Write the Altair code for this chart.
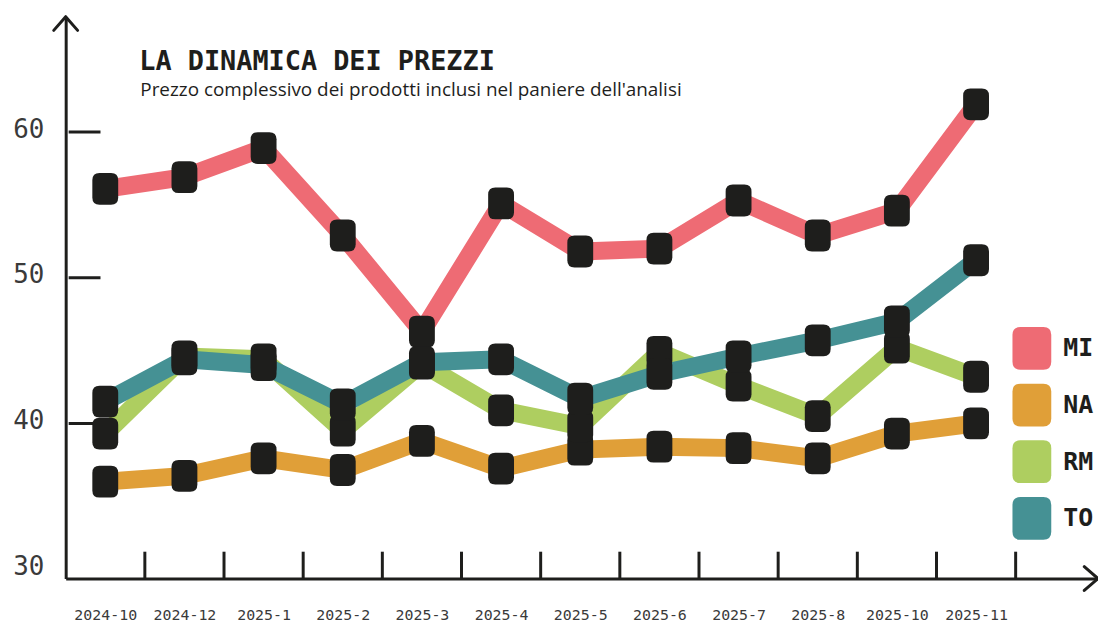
import altair as alt
import pandas as pd

# ---- data ----
months = ["2024-10", "2024-12", "2025-1", "2025-2", "2025-3", "2025-4",
          "2025-5", "2025-6", "2025-7", "2025-8", "2025-10", "2025-11"]
cities = ["MI", "NA", "RM", "TO"]
mi = [56.1, 56.9, 58.9, 52.9, 46.3, 55.1, 51.8, 52.0, 55.3, 52.9, 54.6, 61.9]
na = [36.0, 36.4, 37.6, 36.8, 38.8, 36.9, 38.2, 38.4, 38.3, 37.6, 39.3, 40.0]
rm = [39.3, 44.6, 44.4, 39.5, 44.1, 40.9, 39.8, 44.9, 42.6, 40.5, 45.2, 43.2]
to = [41.5, 44.4, 44.0, 41.3, 44.2, 44.4, 41.7, 43.4, 44.6, 45.7, 47.0, 51.2]
y_ticks = [30, 40, 50, 60]
title_text = "LA DINAMICA DEI PREZZI"
subtitle_text = "Prezzo complessivo dei prodotti inclusi nel paniere dell'analisi"

colors = ["#EE6B74", "#E09F38", "#AECE60", "#459194"]
INK = "#1e1e1c"

series = {"MI": mi, "NA": na, "RM": rm, "TO": to}
rows = []
for c in cities:
    for i, (m, v) in enumerate(zip(months, series[c])):
        rows.append({"month": m, "idx": i, "city": c, "value": v})
df = pd.DataFrame(rows)
xticks_df = pd.DataFrame({"pos": [i + 0.5 for i in range(len(months))]})
yticks_df = pd.DataFrame({"v": [t for t in y_ticks if t > y_ticks[0]]})

# ---- layout ----
W, H = 1038, 565
BAND = 79.6
x_dom = [-0.5, -0.5 + W / BAND]
y_dom = [29.35, 67.92]

x_scale = alt.Scale(domain=x_dom, nice=False, zero=False)
y_scale = alt.Scale(domain=y_dom, nice=False, zero=False)

label_expr = "[" + ",".join("'%s'" % m for m in months) + "][datum.value]"

MARK_PATH = ("M-0.3625,-1 L0.3625,-1 Q0.8125,-1 0.8125,-0.55 L0.8125,0.55 "
             "Q0.8125,1 0.3625,1 L-0.3625,1 Q-0.8125,1 -0.8125,0.55 "
             "L-0.8125,-0.55 Q-0.8125,-1 -0.3625,-1 Z")
LEG_PATH = ("M-0.537,-1 L0.537,-1 Q0.907,-1 0.907,-0.63 L0.907,0.63 "
            "Q0.907,1 0.537,1 L-0.537,1 Q-0.907,1 -0.907,0.63 "
            "L-0.907,-0.63 Q-0.907,-1 -0.537,-1 Z")


def make_legend():
    return alt.Legend(
        title=None, orient="none", legendX=950, legendY=312,
        symbolType=LEG_PATH, symbolSize=1849, symbolStrokeWidth=0,
        symbolOpacity=1, rowPadding=14, labelOffset=10,
        labelFont="DejaVu Sans Mono", labelFontWeight="bold",
        labelFontSize=25, labelColor=INK, padding=0,
    )


x_enc = alt.X("idx:Q", scale=x_scale,
              axis=alt.Axis(values=list(range(len(months))), labelExpr=label_expr,
                            title=None, grid=False, ticks=False, tickSize=0,
                            labelFont="DejaVu Sans Mono", labelFontSize=15,
                            labelColor="#3a3a3a", labelPadding=29,
                            domainColor=INK, domainWidth=3, labelFlush=False))
y_enc = alt.Y("value:Q", scale=y_scale,
              axis=alt.Axis(values=y_ticks, title=None, grid=False, ticks=False,
                            tickSize=0, labelFont="DejaVu Sans Mono",
                            labelFontSize=26, labelColor="#3a3a3a",
                            labelPadding=22, labelOffset=-3,
                            domainColor=INK, domainWidth=3))

lines = alt.Chart(df).mark_line(strokeWidth=18, strokeJoin="round").encode(
    x=x_enc, y=y_enc,
    stroke=alt.Stroke("city:N", scale=alt.Scale(domain=cities, range=colors),
                      legend=make_legend()),
    detail="city:N"
)

# small coloured points (hidden below the black markers) giving the legend its fill
legend_carrier = alt.Chart(df).mark_point(
    filled=True, size=40, opacity=1, strokeWidth=0, shape="square"
).encode(
    x=alt.X("idx:Q", scale=x_scale), y=alt.Y("value:Q", scale=y_scale),
    fill=alt.Fill("city:N", scale=alt.Scale(domain=cities, range=colors),
                  legend=make_legend()),
)

points = alt.Chart(df).mark_point(
    shape=MARK_PATH, filled=True, size=1024, color=INK, opacity=1, strokeWidth=0
).encode(x=alt.X("idx:Q", scale=x_scale), y=alt.Y("value:Q", scale=y_scale))

xticks = alt.Chart(xticks_df).mark_rule(color=INK, strokeWidth=3).encode(
    x=alt.X("pos:Q", scale=x_scale), y=alt.value(H - 27), y2=alt.value(H)
)
yticks = alt.Chart(yticks_df).mark_rule(color=INK, strokeWidth=3).encode(
    y=alt.Y("v:Q", scale=y_scale), x=alt.value(3), x2=alt.value(35)
)

arrow_up = alt.Chart(pd.DataFrame({"a": [0]})).mark_point(
    shape="M-1,1.15 L0,0 L1,1.15", size=576, filled=False, stroke=INK,
    strokeWidth=3, opacity=1, strokeCap="round", strokeJoin="round"
).encode(x=alt.value(0), y=alt.value(0))
arrow_right = alt.Chart(pd.DataFrame({"a": [0]})).mark_point(
    shape="M-1.15,-1 L0,0 L-1.15,1", size=576, filled=False, stroke=INK,
    strokeWidth=3, opacity=1, strokeCap="round", strokeJoin="round"
).encode(x=alt.value(W), y=alt.value(H))

title = alt.Chart(pd.DataFrame({"t": [title_text]})).mark_text(
    align="left", baseline="alphabetic", font="DejaVu Sans Mono",
    fontWeight="bold", fontSize=27, color=INK
).encode(text="t:N", x=alt.value(74), y=alt.value(53.5))
subtitle = alt.Chart(pd.DataFrame({"t": [subtitle_text]})).mark_text(
    align="left", baseline="alphabetic", font="Open Sans",
    fontSize=19, color=INK
).encode(text="t:N", x=alt.value(75), y=alt.value(80))

chart = alt.layer(
    xticks, yticks, lines, legend_carrier, points, arrow_up, arrow_right,
    title, subtitle
).properties(
    width=W, height=H, background="white",
    padding={"left": 58, "top": 7, "right": 0, "bottom": 44},
    autosize=alt.AutoSizeParams(type="none"),
).configure_view(stroke=None)

chart.save("out.html", embed_options={"renderer": "svg", "actions": False})
